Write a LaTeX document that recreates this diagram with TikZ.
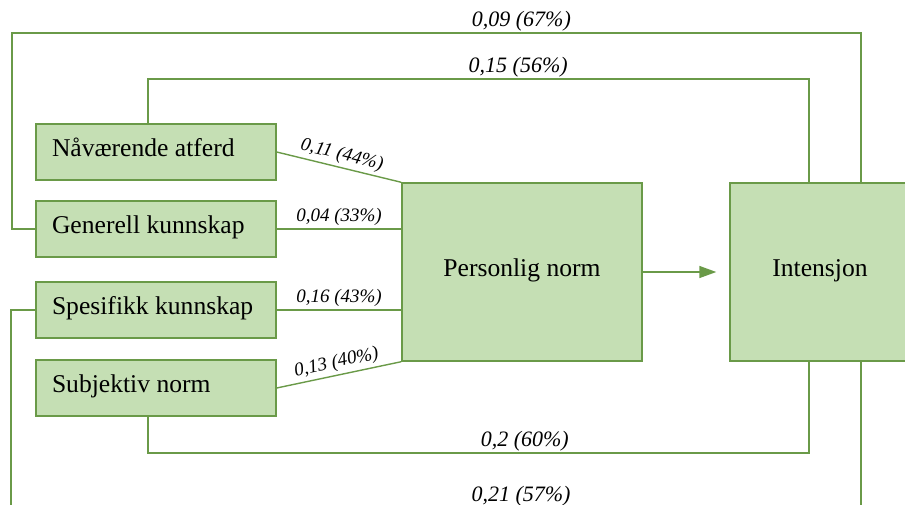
\documentclass[tikz,border=0pt]{standalone}
\usepackage{fontspec}
\setmainfont{Liberation Serif}
\usetikzlibrary{arrows.meta,positioning,calc}
\definecolor{leaf}{HTML}{C5DFB4}
\definecolor{moss}{HTML}{6A9A48}

\begin{document}
\begin{tikzpicture}[x=0.5pt,y=-0.5pt,>=Triangle]
\tikzset{
  factor/.style={draw=moss,fill=leaf,line width=.7pt,minimum height=28pt,text width=104pt,inner xsep=8pt,align=flush left,text height=9pt,text depth=4.5pt,font=\fontsize{12.8}{15}\selectfont},
  core/.style={draw=moss,fill=leaf,line width=.7pt,minimum height=89pt,align=center,font=\fontsize{12.8}{15}\selectfont},
  link/.style={moss,line width=.7pt},
  coef/.style={text=black,font=\fontsize{11}{13}\selectfont\itshape,anchor=south,inner sep=0.5pt},
  wt/.style={text=black,font=\fontsize{9.5}{11}\selectfont\itshape,above,sloped,inner sep=1.5pt}
}
\useasboundingbox (0,0) rectangle (905,504);
\node[factor] (nav) at (156,152) {Nåværende atferd};
\node[factor] (gen) at (156,229) {Generell kunnskap};
\node[factor] (spes) at (156,310) {Spesifikk kunnskap};
\node[factor] (subj) at (156,388) {Subjektiv norm};
\node[core,minimum width=120pt] (pn) at (522,272) {\raisebox{4.5pt}{Personlig norm}};
\node[core,minimum width=90pt] (int) at (820,272) {\raisebox{3.5pt}{Intensjon}};
% direct paths into personal norm
\draw[link] (nav.east) -- node[wt] {0,11 (44\%)} (pn.north west);
\draw[link] (gen.east) -- node[wt] {0,04 (33\%)} (gen.east -| pn.west);
\draw[link] (spes.east) -- node[wt] {0,16 (43\%)} (spes.east -| pn.west);
\draw[link] (subj.east) -- node[wt] {0,13 (40\%)} (pn.south west);
\draw[link,->,>={Triangle[length=8.5pt,width=6pt]},shorten >=6.5pt] (pn.east) -- (int.west);
% direct paths into intention
\draw[link] (gen.west) -| (12,33) -- node[coef,pos=.6] {0,09 (67\%)} (861,33) -- (861,0 |- int.north);
\draw[link] (148,0 |- nav.north) -- (148,79) -- node[coef,pos=.56] {0,15 (56\%)} (809,79) -- (809,0 |- int.north);
\draw[link] (148,0 |- subj.south) -- (148,453) -- node[coef,pos=.57] {0,2 (60\%)} (809,453) -- (809,0 |- int.south);
\draw[link] (spes.west) -| (11,508) -- node[coef,pos=.6] {0,21 (57\%)} (861,508) -- (861,0 |- int.south);
\end{tikzpicture}
\end{document}
